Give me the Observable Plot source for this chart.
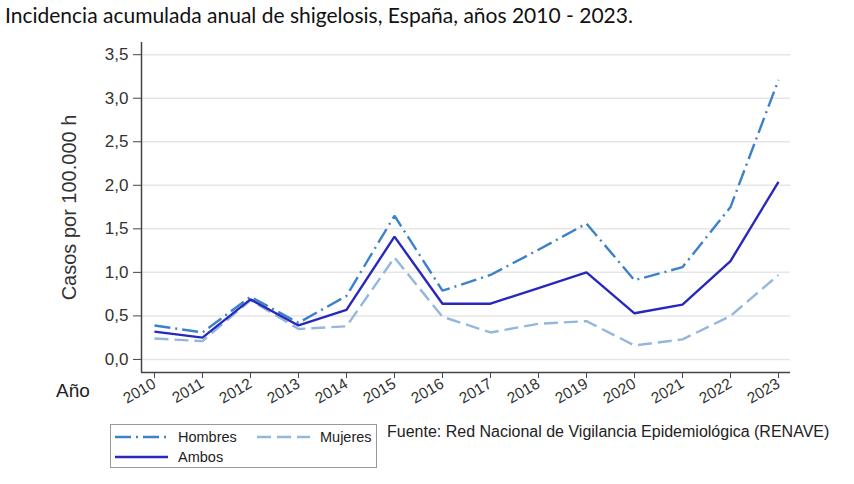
<!DOCTYPE html>
<html>
<head>
<meta charset="utf-8">
<script src="https://cdn.jsdelivr.net/npm/d3@7"></script>
<script src="https://cdn.jsdelivr.net/npm/@observablehq/plot@0.6"></script>
<style>
  html, body { margin: 0; padding: 0; background: #fff; }
  #wrap { position: relative; width: 854px; height: 484px; overflow: hidden; font-family: "Liberation Sans", Arial, sans-serif; color: #222; }
  #title { position: absolute; left: 5px; top: 2px; font-family: Lato, "Open Sans", sans-serif; font-size: 21px; color: #111; white-space: nowrap; }
  #chart { position: absolute; left: 0; top: 36px; }
  #ano { position: absolute; left: 56px; top: 380px; font-size: 19px; color: #222; }
  #legend { position: absolute; left: 110px; top: 424px; width: 267px; height: 44px; border: 1px solid #999; box-sizing: border-box; font-size: 14.5px; }
  #legend .item { position: absolute; display: flex; align-items: center; white-space: nowrap; }
  #legend svg { margin-right: 9px; }
  #source { position: absolute; left: 387px; top: 423px; font-size: 16px; color: #222; white-space: nowrap; }
</style>
</head>
<body>
<div id="wrap">
  <div id="title">Incidencia acumulada anual de shigelosis, España, años 2010 - 2023.</div>
  <div id="chart"></div>
  <div id="ano">Año</div>
  <div id="legend"></div>
  <div id="source">Fuente: Red Nacional de Vigilancia Epidemiológica (RENAVE)</div>
</div>
<script>
const years = [2010, 2011, 2012, 2013, 2014, 2015, 2016, 2017, 2018, 2019, 2020, 2021, 2022, 2023];
const hombres = [0.39, 0.31, 0.72, 0.42, 0.73, 1.65, 0.79, 0.97, 1.26, 1.56, 0.91, 1.06, 1.75, 3.21];
const ambos   = [0.32, 0.25, 0.69, 0.39, 0.57, 1.41, 0.64, 0.64, 0.82, 1.00, 0.53, 0.63, 1.13, 2.04];
const mujeres = [0.24, 0.21, 0.68, 0.35, 0.38, 1.17, 0.49, 0.31, 0.41, 0.44, 0.16, 0.23, 0.50, 0.97];
const yTicks = [0, 0.5, 1, 1.5, 2, 2.5, 3, 3.5];
const seriesNames = ["Hombres", "Mujeres", "Ambos"];
const colors = {Hombres: "#3b82c8", Mujeres: "#93b8dc", Ambos: "#2828bc"};
const dashes = {Hombres: "16,5,2,5", Mujeres: "14,6", Ambos: null};

const rows = [];
years.forEach((y, i) => {
  rows.push({year: y, value: hombres[i], serie: "Hombres"});
  rows.push({year: y, value: mujeres[i], serie: "Mujeres"});
  rows.push({year: y, value: ambos[i], serie: "Ambos"});
});

const xDomain = [2009.73, 2023.25];
const yDomain = [-0.15, 3.64];

function lineFor(name) {
  return Plot.line(rows.filter(d => d.serie === name), {
    x: "year", y: "value",
    stroke: colors[name], strokeWidth: 2.4,
    strokeDasharray: dashes[name] || undefined,
    strokeLinejoin: "miter", strokeLinecap: "butt"
  });
}

const plot = Plot.plot({
  width: 854,
  height: 448,
  marginLeft: 141,
  marginRight: 64,
  marginTop: 6,
  marginBottom: 112,
  style: {fontFamily: "'Liberation Sans', Arial, sans-serif", color: "#222", background: "transparent"},
  x: {domain: xDomain},
  y: {domain: yDomain},
  marks: [
    Plot.gridY(yTicks, {stroke: "#e6e6e6", strokeOpacity: 1, strokeWidth: 1.5}),
    Plot.ruleX([xDomain[0]], {stroke: "#444", strokeWidth: 1.5}),
    Plot.ruleY([yDomain[0]], {stroke: "#444", strokeWidth: 1.5}),
    Plot.axisY(yTicks, {tickSize: 8, tickPadding: 5, fontSize: 17, stroke: "#444", fill: "#333",
      tickFormat: d => d.toFixed(1).replace(".", ","), label: null}),
    Plot.axisX(years, {tickSize: 6, tickPadding: 4, tickRotate: -30, fontSize: 15.5, stroke: "#444", fill: "#333",
      tickFormat: d => String(d), label: null}),
    Plot.text(["Casos por 100.000 h"], {frameAnchor: "left", textAnchor: "middle", dx: -72, rotate: -90, fontSize: 20, fill: "#333", text: d => d}),
    lineFor("Mujeres"),
    lineFor("Hombres"),
    lineFor("Ambos")
  ]
});
document.getElementById("chart").appendChild(plot);

// Legend
const legend = document.getElementById("legend");
const positions = {Hombres: [4, 4], Mujeres: [146, 4], Ambos: [4, 24]};
seriesNames.forEach(name => {
  const item = document.createElement("div");
  item.className = "item";
  item.style.left = positions[name][0] + "px";
  item.style.top = positions[name][1] + "px";
  const svg = d3.create("svg").attr("width", 54).attr("height", 16);
  svg.append("line").attr("x1", 0).attr("x2", 53).attr("y1", 8).attr("y2", 8)
    .attr("stroke", colors[name]).attr("stroke-width", 2.4)
    .attr("stroke-dasharray", dashes[name]);
  item.appendChild(svg.node());
  const t = document.createElement("span");
  t.textContent = name;
  item.appendChild(t);
  legend.appendChild(item);
});
</script>
</body>
</html>
